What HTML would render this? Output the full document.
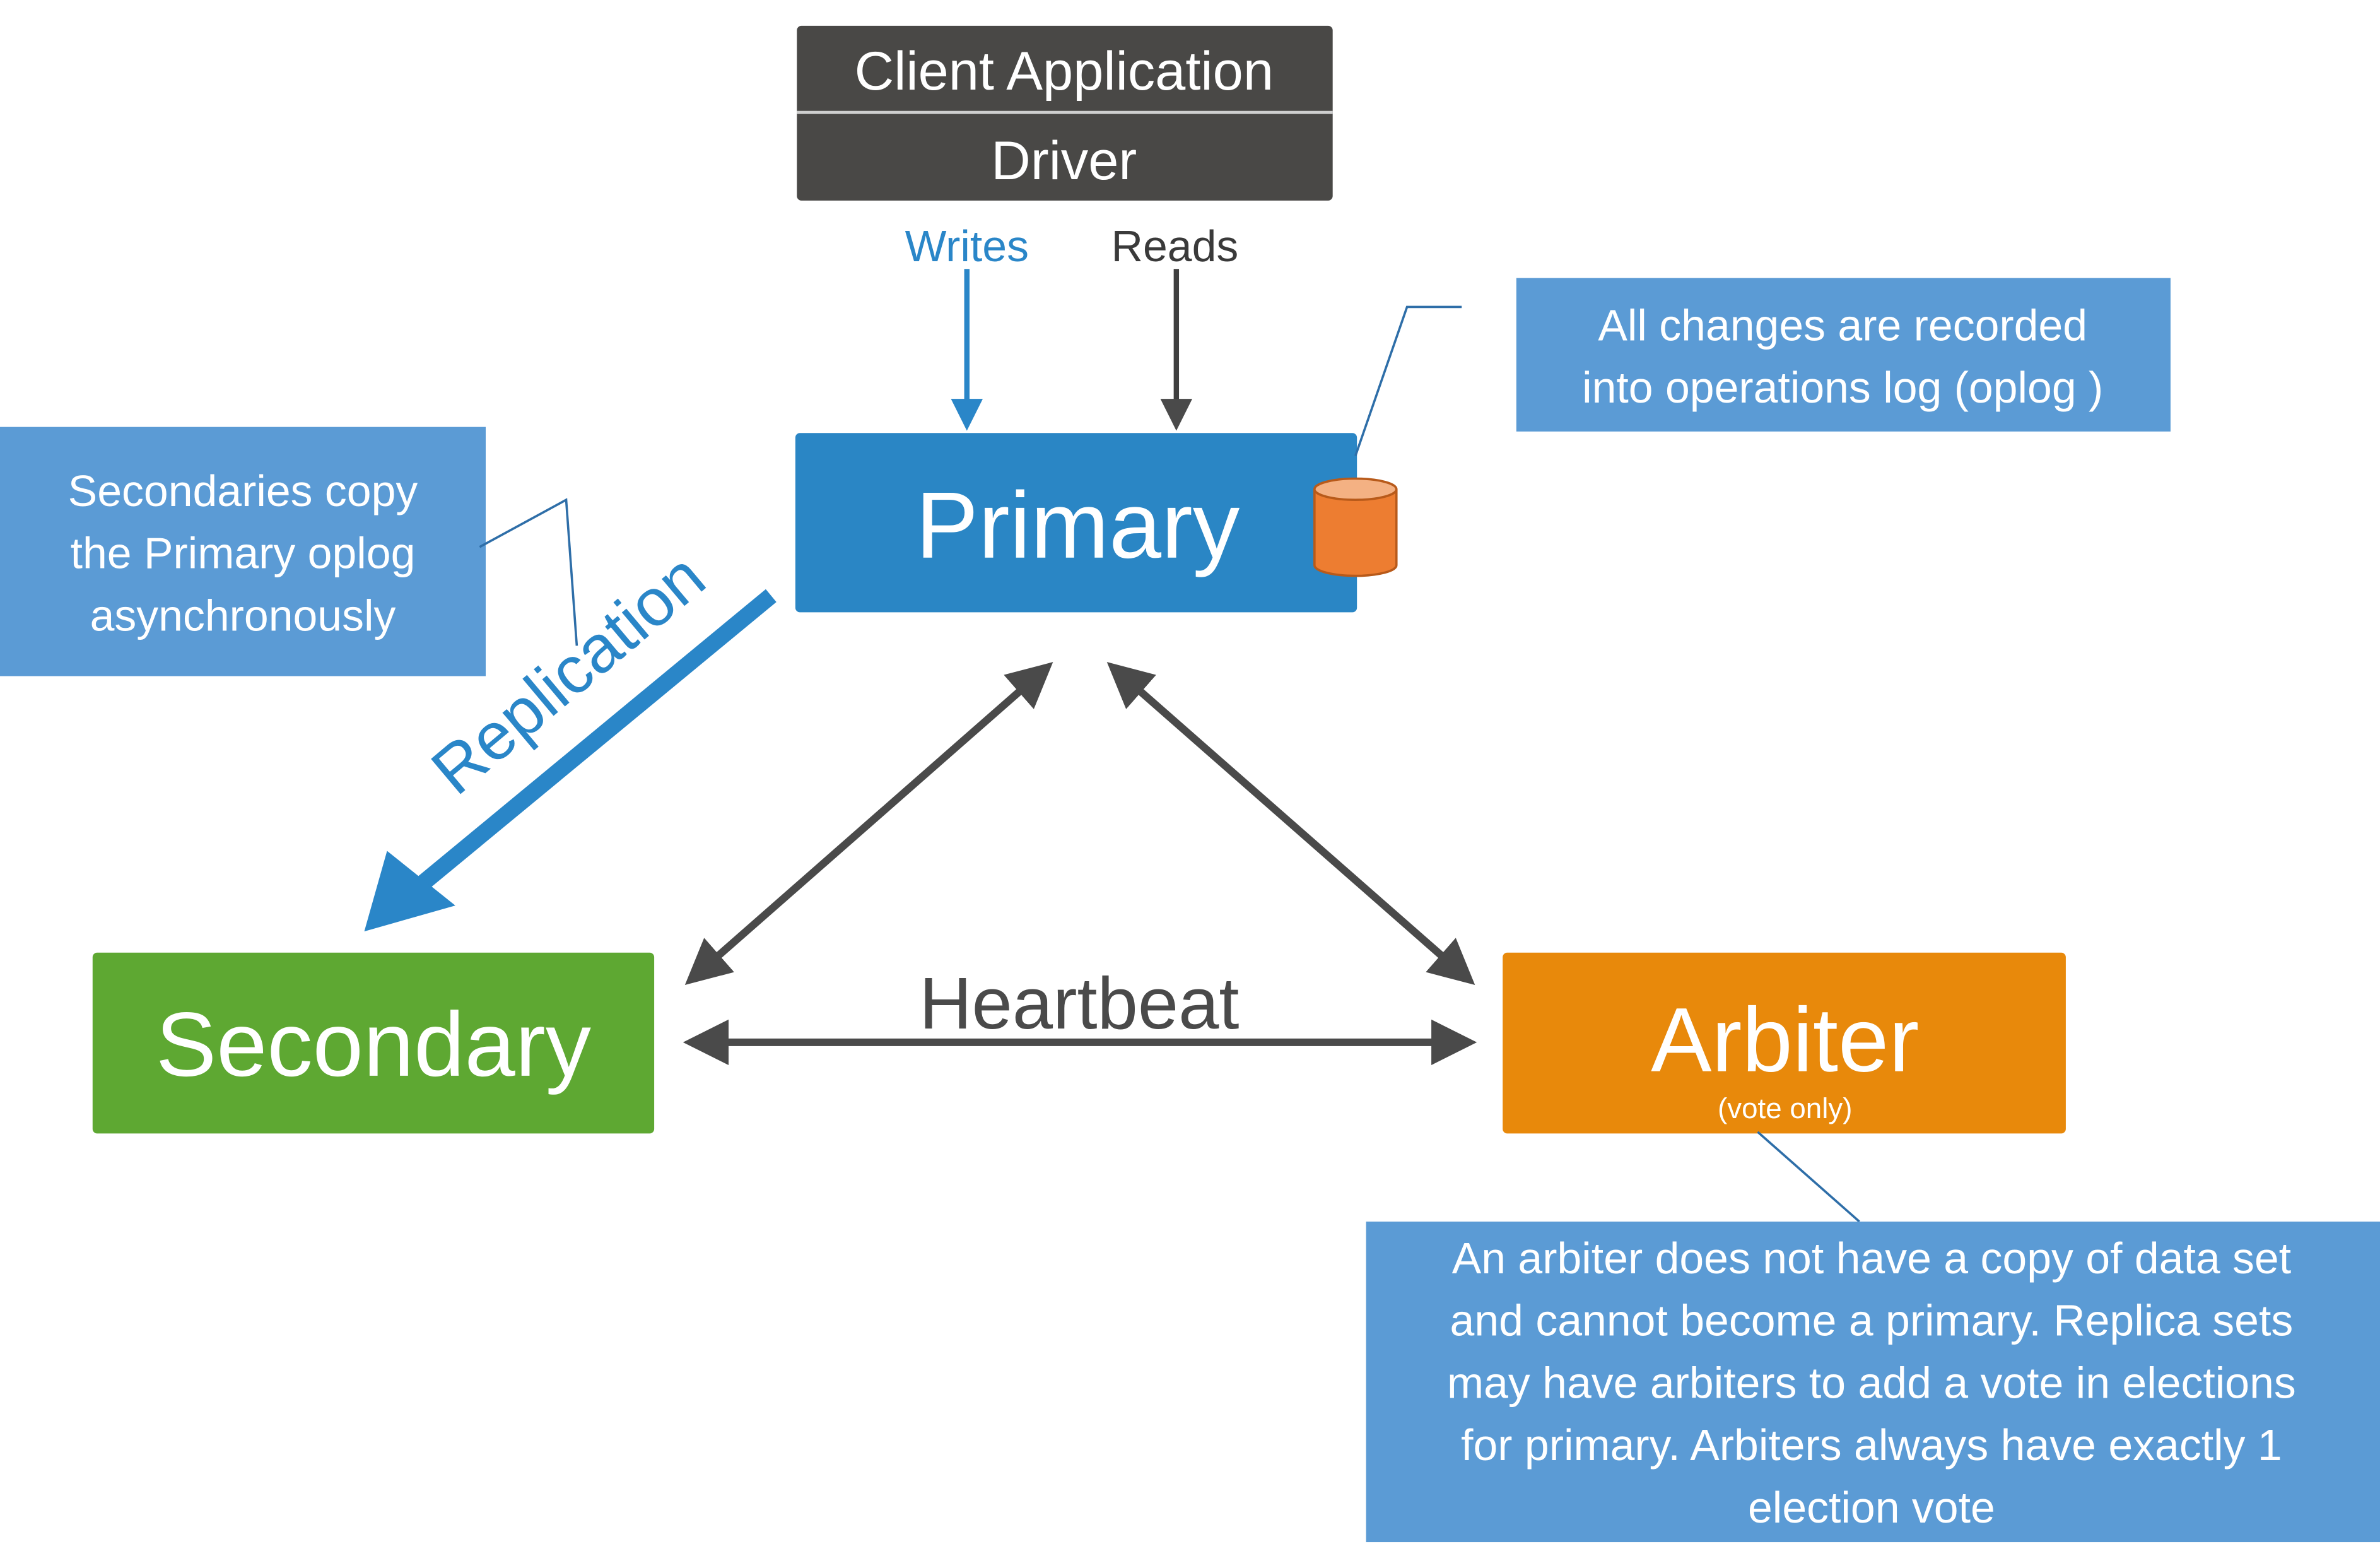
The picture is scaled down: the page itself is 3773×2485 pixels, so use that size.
<!DOCTYPE html>
<html><head><meta charset="utf-8"><style>
html,body{margin:0;padding:0;background:#fff;}
svg{display:block;}
text{font-family:"Liberation Sans",sans-serif;}
</style></head><body>
<svg width="3773" height="2485" viewBox="0 0 1568 1032" preserveAspectRatio="none" xmlns="http://www.w3.org/2000/svg">
<defs>
<marker id="ad" markerWidth="6" markerHeight="6" refX="5" refY="3" orient="auto" markerUnits="strokeWidth"><path d="M0,0 L6,3 L0,6 z" fill="#4a4a4a"/></marker>
<marker id="ads" markerWidth="6" markerHeight="6" refX="1" refY="3" orient="auto" markerUnits="strokeWidth"><path d="M6,0 L0,3 L6,6 z" fill="#4a4a4a"/></marker>
<marker id="ab" markerWidth="6" markerHeight="6" refX="5" refY="3" orient="auto" markerUnits="strokeWidth"><path d="M0,0 L6,3 L0,6 z" fill="#2a86c8"/></marker>
<marker id="abig" markerWidth="6" markerHeight="6" refX="5" refY="3" orient="auto" markerUnits="strokeWidth"><path d="M0,0 L6,3 L0,6 z" fill="#2a86c8"/></marker>
</defs>
<!-- client -->
<rect x="525" y="17" width="353" height="115" rx="3" fill="#494846"/>
<line x1="525" y1="74" x2="878" y2="74" stroke="#cfcfcf" stroke-width="2"/>
<text x="701" y="59" font-size="36" fill="#fff" text-anchor="middle">Client Application</text>
<text x="701" y="118" font-size="36" fill="#fff" text-anchor="middle">Driver</text>
<text x="637" y="172" font-size="29" fill="#2a86c8" text-anchor="middle">Writes</text>
<text x="774" y="172" font-size="29" fill="#3a3a3a" text-anchor="middle">Reads</text>
<line x1="637" y1="177" x2="637" y2="280" stroke="#2a86c8" stroke-width="3.5" marker-end="url(#ab)"/>
<line x1="775" y1="177" x2="775" y2="280" stroke="#3f3f3f" stroke-width="3.5" marker-end="url(#ad)"/>
<!-- primary -->
<rect x="524" y="285" width="370" height="118" rx="3" fill="#2a86c5"/>
<text x="710" y="367" font-size="62" fill="#fff" text-anchor="middle">Primary</text>
<path d="M866,322 L866,372 A27,7 0 0 0 920,372 L920,322" fill="#ed7d31" stroke="#b85a1a" stroke-width="1.5"/>
<ellipse cx="893" cy="322" rx="27" ry="7" fill="#f4b183" stroke="#b85a1a" stroke-width="1.5"/>
<!-- top right callout -->
<rect x="999" y="183" width="431" height="101" fill="#5b9bd5"/>
<text x="1214" y="224" font-size="29" fill="#fff" text-anchor="middle">All changes are recorded</text>
<text x="1214" y="265" font-size="29" fill="#fff" text-anchor="middle">into operations log (oplog )</text>
<polyline points="963,202 927,202 893,300" fill="none" stroke="#2e6ea8" stroke-width="1.5"/>
<!-- left callout -->
<rect x="0" y="281" width="320" height="164" fill="#5b9bd5"/>
<text x="160" y="333" font-size="29" fill="#fff" text-anchor="middle">Secondaries copy</text>
<text x="160" y="374" font-size="29" fill="#fff" text-anchor="middle">the Primary oplog</text>
<text x="160" y="415" font-size="29" fill="#fff" text-anchor="middle">asynchronously</text>
<polyline points="316,360 373,329 380,425" fill="none" stroke="#2e6ea8" stroke-width="1.5"/>
<!-- replication -->
<line x1="508" y1="392" x2="268" y2="590" stroke="#2a86c8" stroke-width="11"/>
<polygon points="240,613 255,560 300,596" fill="#2a86c8"/>
<text x="0" y="0" font-size="44" fill="#2a86c8" text-anchor="middle" transform="translate(384,455) rotate(-40)">Replication</text>
<!-- double arrows -->
<line x1="690" y1="439" x2="455" y2="645" stroke="#4a4a4a" stroke-width="5" marker-start="url(#ads)" marker-end="url(#ad)"/>
<line x1="733" y1="439" x2="968" y2="645" stroke="#4a4a4a" stroke-width="5" marker-start="url(#ads)" marker-end="url(#ad)"/>
<line x1="455" y1="686" x2="968" y2="686" stroke="#4a4a4a" stroke-width="5" marker-start="url(#ads)" marker-end="url(#ad)"/>
<text x="711" y="677" font-size="48" fill="#4a4a4a" text-anchor="middle">Heartbeat</text>
<!-- secondary -->
<rect x="61" y="627" width="370" height="119" rx="3" fill="#5ea832"/>
<text x="246" y="708" font-size="60" fill="#fff" text-anchor="middle">Secondary</text>
<!-- arbiter -->
<rect x="990" y="627" width="371" height="119" rx="3" fill="#e8890b"/>
<text x="1176" y="705" font-size="60" fill="#fff" text-anchor="middle">Arbiter</text>
<text x="1176" y="736" font-size="19" fill="#fff" text-anchor="middle">(vote only)</text>
<line x1="1158" y1="745" x2="1225" y2="804" stroke="#2e6ea8" stroke-width="1.5"/>
<!-- bottom callout -->
<rect x="900" y="804" width="668" height="211" fill="#5b9bd5"/>
<text x="1233" y="838" font-size="29" fill="#fff" text-anchor="middle">An arbiter does not have a copy of data set</text>
<text x="1233" y="879" font-size="29" fill="#fff" text-anchor="middle">and cannot become a primary. Replica sets</text>
<text x="1233" y="920" font-size="29" fill="#fff" text-anchor="middle">may have arbiters to add a vote in elections</text>
<text x="1233" y="961" font-size="29" fill="#fff" text-anchor="middle">for primary. Arbiters always have exactly 1</text>
<text x="1233" y="1002" font-size="29" fill="#fff" text-anchor="middle">election vote</text>
</svg>
</body></html>
